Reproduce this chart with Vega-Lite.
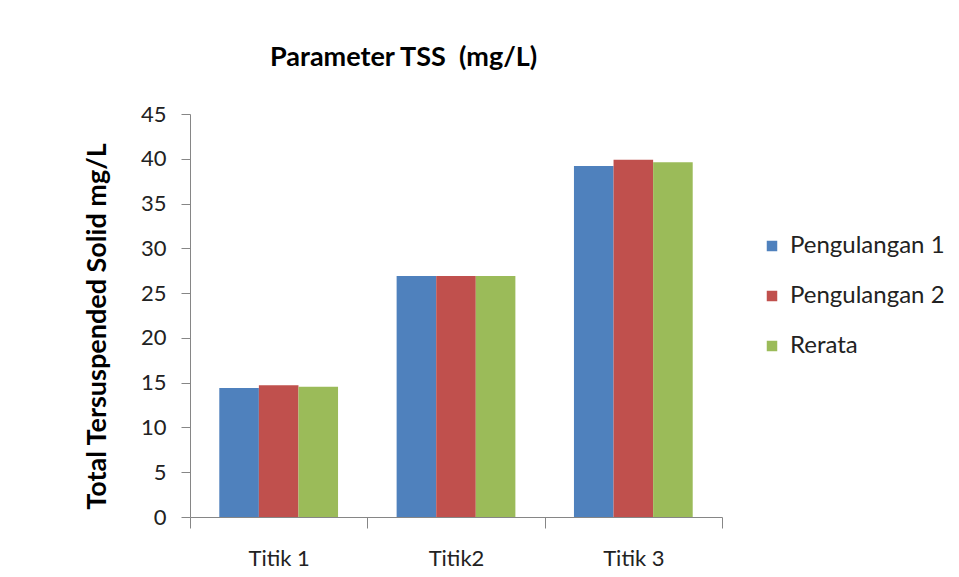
{
  "$schema": "https://vega.github.io/schema/vega-lite/v6.json",
  "width": 532,
  "height": 403,
  "autosize": "none",
  "padding": {"left": 190, "top": 114, "right": 237, "bottom": 60},
  "background": "white",
  "title": {
    "text": "Parameter TSS\u00a0 (mg/L)",
    "anchor": "start",
    "frame": "group",
    "dx": 80,
    "offset": 31,
    "font": "Lato",
    "fontSize": 27,
    "fontWeight": "bold",
    "color": "#000000"
  },
  "data": {
    "values": [
      {"titik": "Titik 1", "seri": "Pengulangan 1", "nilai": 14.4},
      {"titik": "Titik 1", "seri": "Pengulangan 2", "nilai": 14.7},
      {"titik": "Titik 1", "seri": "Rerata", "nilai": 14.55},
      {"titik": "Titik2", "seri": "Pengulangan 1", "nilai": 26.9},
      {"titik": "Titik2", "seri": "Pengulangan 2", "nilai": 26.9},
      {"titik": "Titik2", "seri": "Rerata", "nilai": 26.9},
      {"titik": "Titik 3", "seri": "Pengulangan 1", "nilai": 39.2},
      {"titik": "Titik 3", "seri": "Pengulangan 2", "nilai": 39.9},
      {"titik": "Titik 3", "seri": "Rerata", "nilai": 39.6}
    ]
  },
  "mark": {"type": "bar"},
  "encoding": {
    "x": {
      "field": "titik",
      "type": "nominal",
      "sort": ["Titik 1", "Titik2", "Titik 3"],
      "scale": {"paddingInner": 0, "paddingOuter": 0},
      "axis": {
        "title": null,
        "labelAngle": 0,
        "tickBand": "extent",
        "tickSize": 11,
        "labelPadding": 20,
        "labelFont": "Lato",
        "labelFontSize": 22,
        "labelColor": "#222222",
        "domainColor": "#868686",
        "tickColor": "#868686"
      }
    },
    "xOffset": {
      "field": "seri",
      "type": "nominal",
      "sort": ["Pengulangan 1", "Pengulangan 2", "Rerata"],
      "scale": {"paddingInner": 0, "paddingOuter": 0.74}
    },
    "y": {
      "field": "nilai",
      "type": "quantitative",
      "scale": {"domain": [0, 45], "nice": false},
      "axis": {
        "values": [0, 5, 10, 15, 20, 25, 30, 35, 40, 45],
        "title": "Total Tersuspended Solid mg/L",
        "titleFont": "Lato",
        "titleFontSize": 27,
        "titleFontWeight": "bold",
        "titleColor": "#000000",
        "titlePadding": 29,
        "titleY": 212,
        "grid": false,
        "tickSize": 9,
        "labelPadding": 15,
        "labelFont": "Lato",
        "labelFontSize": 22,
        "labelColor": "#222222",
        "domainColor": "#868686",
        "tickColor": "#868686"
      }
    },
    "color": {
      "field": "seri",
      "type": "nominal",
      "sort": ["Pengulangan 1", "Pengulangan 2", "Rerata"],
      "scale": {"range": ["#4F81BD", "#C0504D", "#9BBB59"]},
      "legend": {
        "title": null,
        "orient": "none",
        "legendX": 570,
        "legendY": 120,
        "symbolType": "square",
        "symbolSize": 110,
        "symbolStrokeWidth": 0,
        "symbolOpacity": 1,
        "labelFont": "Lato",
        "labelFontSize": 24,
        "labelColor": "#222222",
        "labelOffset": 6,
        "rowPadding": 26
      }
    }
  },
  "config": {
    "view": {"stroke": null}
  }
}
